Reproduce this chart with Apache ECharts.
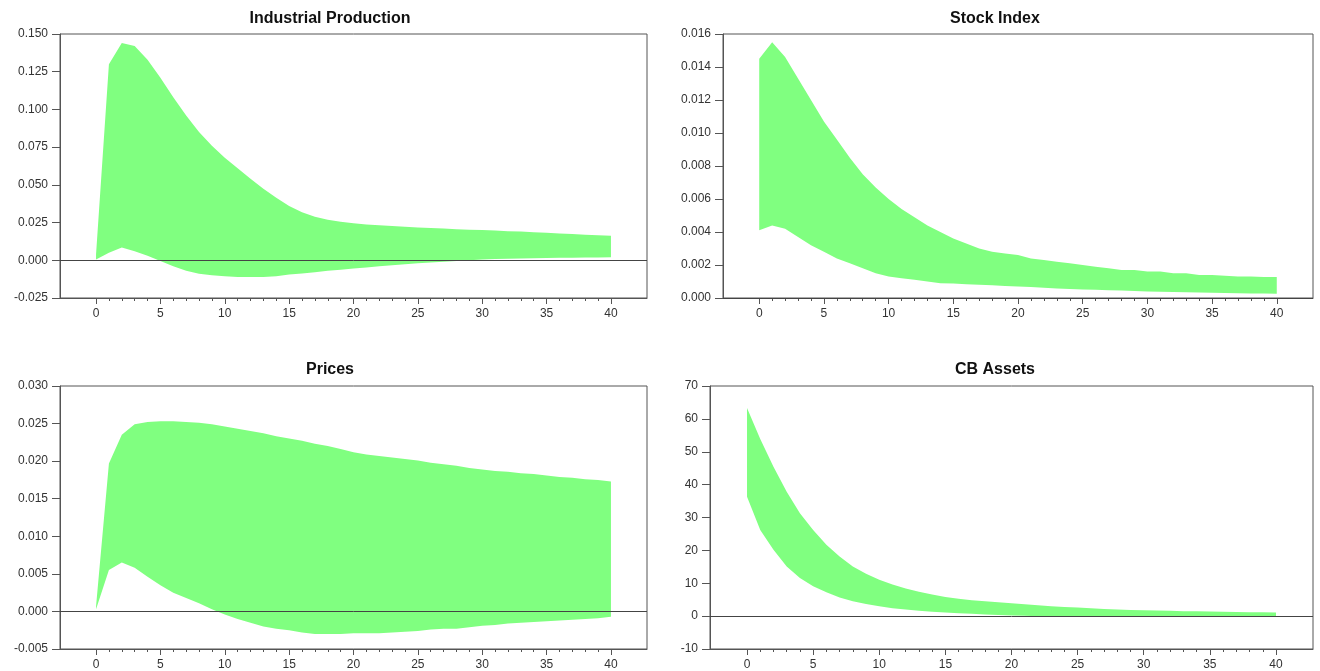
<!DOCTYPE html>
<html>
<head>
<meta charset="utf-8">
<script src="https://cdn.jsdelivr.net/npm/echarts@6/dist/echarts.min.js"></script>
<style>
html,body{margin:0;padding:0;background:#fff;}
#chart{width:1320px;height:671px;}
</style>
</head>
<body>
<div id="chart"></div>
<script>
// ---- data ----
const periods = [0,1,2,3,4,5,6,7,8,9,10,11,12,13,14,15,16,17,18,19,20,21,22,23,24,25,26,27,28,29,30,31,32,33,34,35,36,37,38,39,40];
const xMajorTicks = [0,5,10,15,20,25,30,35,40];

const titles = ["Industrial Production", "Stock Index", "Prices", "CB Assets"];

const ipUpper = [0.004,0.130,0.144,0.142,0.133,0.121,0.108,0.096,0.085,0.076,0.068,0.061,0.054,0.0475,0.0415,0.036,0.0318,0.0288,0.0268,0.0255,0.0245,0.0238,0.0232,0.0227,0.0222,0.0218,0.0214,0.021,0.0206,0.0203,0.020,0.0197,0.0193,0.019,0.0186,0.0182,0.0178,0.0174,0.017,0.0166,0.0162];
const ipLower = [0.0005,0.005,0.0085,0.006,0.003,-0.0005,-0.004,-0.007,-0.009,-0.010,-0.0105,-0.011,-0.011,-0.011,-0.0105,-0.0095,-0.0088,-0.008,-0.007,-0.0063,-0.0055,-0.0047,-0.004,-0.0033,-0.0027,-0.002,-0.0015,-0.0009,-0.0004,0.0,0.0005,0.0008,0.001,0.0012,0.0014,0.0015,0.0016,0.0017,0.0018,0.0019,0.002];

const stockUpper = [0.0145,0.0155,0.0146,0.0133,0.0120,0.0107,0.0096,0.0085,0.0075,0.0067,0.0060,0.0054,0.0049,0.0044,0.0040,0.0036,0.0033,0.0030,0.0028,0.0027,0.0026,0.0024,0.0023,0.0022,0.0021,0.0020,0.0019,0.0018,0.0017,0.0017,0.0016,0.0016,0.0015,0.0015,0.0014,0.0014,0.00135,0.0013,0.0013,0.00128,0.00127];
const stockLower = [0.0041,0.0044,0.0042,0.0037,0.0032,0.0028,0.0024,0.0021,0.0018,0.0015,0.0013,0.0012,0.0011,0.0010,0.0009,0.00088,0.00083,0.0008,0.00077,0.00073,0.0007,0.00066,0.00062,0.00058,0.00055,0.00052,0.0005,0.00047,0.00045,0.00043,0.0004,0.00038,0.00036,0.00035,0.00033,0.00032,0.0003,0.00029,0.00028,0.00027,0.00026];

const pricesUpper = [0.0007,0.0197,0.0235,0.0249,0.0252,0.0253,0.0253,0.0252,0.0251,0.0249,0.0246,0.0243,0.0240,0.0237,0.0233,0.0230,0.0227,0.0223,0.0220,0.0216,0.0212,0.0209,0.0207,0.0205,0.0203,0.0201,0.0198,0.0196,0.0194,0.0191,0.0189,0.0187,0.0186,0.0184,0.0183,0.0181,0.0179,0.0178,0.0176,0.0175,0.0173];
const pricesLower = [0.0003,0.0055,0.0065,0.0058,0.0046,0.0035,0.0025,0.0018,0.0011,0.0003,-0.0004,-0.001,-0.0015,-0.002,-0.0023,-0.0025,-0.0028,-0.003,-0.003,-0.003,-0.0029,-0.0029,-0.0029,-0.0028,-0.0027,-0.0026,-0.0024,-0.0023,-0.0023,-0.0021,-0.0019,-0.0018,-0.0016,-0.0015,-0.0014,-0.0013,-0.0012,-0.0011,-0.001,-0.0009,-0.0007];

const cbUpper = [63.3,53.9,45.4,37.8,31.3,26.2,21.7,18.1,15.1,12.9,11.1,9.6,8.4,7.4,6.6,5.8,5.3,4.8,4.5,4.2,3.9,3.6,3.3,3.0,2.8,2.6,2.4,2.2,2.0,1.9,1.8,1.7,1.6,1.5,1.45,1.4,1.3,1.25,1.2,1.15,1.1];
const cbLower = [36.3,26.2,20.2,15.1,11.6,9.1,7.3,5.7,4.5,3.7,3.0,2.4,2.0,1.6,1.3,1.1,0.9,0.7,0.5,0.35,0.2,0.1,0.0,-0.1,-0.15,-0.2,-0.25,-0.3,-0.3,-0.3,-0.3,-0.3,-0.3,-0.3,-0.3,-0.3,-0.3,-0.3,-0.3,-0.3,-0.3];

// y-axis scales (min, max, interval, decimals)
const yMin = [-0.025, 0, -0.005, -10];
const yMax = [0.150, 0.016, 0.030, 70];
const yStep = [0.025, 0.002, 0.005, 10];
const yDecimals = [3, 3, 3, 0];

// ---- layout ----
const X_MIN = -2.8, X_MAX = 42.8;
const grids = [
  {left: 60,  top: 34,  width: 587, height: 264},
  {left: 723, top: 34,  width: 590, height: 264},
  {left: 60,  top: 386, width: 587, height: 263},
  {left: 710, top: 386, width: 603, height: 263}
];
const titlePos = [
  {left: 325, top: 6},
  {left: 990, top: 6},
  {left: 325, top: 357},
  {left: 990, top: 357}
];
const GREEN = '#80ff80';
const AXIS = '#555';
const LABEL_FONT = "'Liberation Sans', Arial, sans-serif";
const TITLE_FONT = "'Liberation Sans', Arial, sans-serif";

const uppers = [ipUpper, stockUpper, pricesUpper, cbUpper];
const lowers = [ipLower, stockLower, pricesLower, cbLower];

const option = {
  animation: false,
  backgroundColor: '#fff',
  title: titles.map((t, i) => ({
    text: t,
    left: titlePos[i].left,
    top: titlePos[i].top,
    textAlign: 'center',
    textStyle: {fontFamily: TITLE_FONT, fontWeight: 'bold', fontSize: 16, color: '#111'}
  })),
  grid: grids.map(g => Object.assign({show: true, borderColor: AXIS, borderWidth: 1, backgroundColor: 'transparent', containLabel: false}, g)),
  xAxis: [],
  yAxis: [],
  series: []
};

for (let i = 0; i < 4; i++) {
  option.xAxis.push({
    type: 'value', gridIndex: i, min: X_MIN, max: X_MAX, position: 'bottom',
    axisLine: {show: true, onZero: false, lineStyle: {color: AXIS, width: 1}},
    axisTick: {show: true, length: 6, inside: false, customValues: xMajorTicks, lineStyle: {color: AXIS}},
    axisLabel: {show: true, customValues: xMajorTicks, margin: 10, color: '#333', fontSize: 12, fontFamily: LABEL_FONT},
    splitLine: {show: false}
  });
  option.yAxis.push({
    type: 'value', gridIndex: i, min: yMin[i], max: yMax[i], interval: yStep[i],
    axisLine: {show: true, onZero: false, lineStyle: {color: AXIS, width: 1}},
    axisTick: {show: true, length: 8, lineStyle: {color: AXIS}},
    axisLabel: {color: '#333', fontSize: 12, margin: 12, fontFamily: LABEL_FONT,
      formatter: (v) => Number(v).toFixed(yDecimals[i])},
    splitLine: {show: false}
  });
}
// minor tick x axes (one per period)
for (let i = 0; i < 4; i++) {
  option.xAxis.push({
    type: 'value', gridIndex: i, min: X_MIN, max: X_MAX, position: 'bottom', offset: 0,
    axisLine: {show: false, onZero: false},
    axisTick: {show: true, length: 3, customValues: periods, lineStyle: {color: AXIS}},
    axisLabel: {show: false},
    splitLine: {show: false}
  });
}

function bandRenderer(up, lo) {
  return function (params, api) {
    if (params.dataIndex !== 0) return null;
    const pts = [];
    for (let k = 0; k < periods.length; k++) pts.push(api.coord([periods[k], up[k]]));
    for (let k = periods.length - 1; k >= 0; k--) pts.push(api.coord([periods[k], lo[k]]));
    return {
      type: 'polygon',
      shape: {points: pts},
      style: {fill: GREEN, stroke: null}
    };
  };
}

for (let i = 0; i < 4; i++) {
  const up = uppers[i], lo = lowers[i];
  // zero reference line (drawn beneath the band)
  option.series.push({
    name: titles[i] + ' zero',
    type: 'line', xAxisIndex: i, yAxisIndex: i,
    symbol: 'none', silent: true, z: 1,
    lineStyle: {opacity: 0},
    data: periods.map((p, k) => [p, lo[k]]),
    markLine: {
      silent: true, symbol: 'none', animation: false,
      label: {show: false},
      lineStyle: {color: '#444', width: 1, type: 'solid'},
      data: [{yAxis: 0}]
    }
  });
  // confidence band
  option.series.push({
    name: titles[i] + ' band',
    type: 'custom', xAxisIndex: i, yAxisIndex: i,
    silent: true, z: 2,
    renderItem: bandRenderer(up, lo),
    encode: {x: 0, y: [1, 2]},
    data: periods.map((p, k) => [p, up[k], lo[k]])
  });
}

const chart = echarts.init(document.getElementById('chart'), null, {renderer: 'canvas'});
chart.setOption(option);
</script>
</body>
</html>
